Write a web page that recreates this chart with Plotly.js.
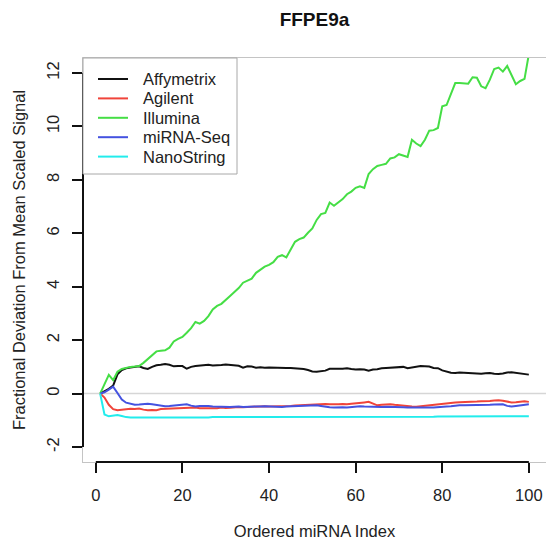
<!DOCTYPE html>
<html>
<head>
<meta charset="utf-8">
<script src="https://cdn.plot.ly/plotly-3.0.1.min.js"></script>
<style>html,body{margin:0;padding:0;background:#fff;}#chart{width:546px;height:544px;}</style>
</head>
<body>
<div id="chart"></div>
<script>
// ---- data ----
const chartTitle = "FFPE9a";
const xTitle = "Ordered miRNA Index";
const yTitle = "Fractional Deviation From Mean Scaled Signal";
const seriesNames = ["Affymetrix", "Agilent", "Illumina", "miRNA-Seq", "NanoString"];
const xTicks = [0, 20, 40, 60, 80, 100];
const yTicks = [-2, 0, 2, 4, 6, 8, 10, 12];

const affymetrix = [0,0.08,0.18,0.30,0.72,0.88,0.95,0.98,1.00,1.02,
  0.96,0.92,1.00,1.06,1.08,1.11,1.08,1.02,1.03,1.03,
  0.93,1.00,1.03,1.04,1.05,1.08,1.05,1.05,1.07,1.09,
  1.08,1.06,1.04,0.97,1.02,1.01,0.97,0.99,0.97,0.98,
  0.97,0.97,0.96,0.96,0.96,0.95,0.93,0.92,0.88,0.83,
  0.82,0.84,0.86,0.93,0.94,0.93,0.93,0.95,0.92,0.90,
  0.91,0.90,0.86,0.90,0.91,0.95,0.96,0.97,0.96,0.97,
  1.00,0.95,0.97,0.99,1.03,1.02,1.01,0.96,0.95,0.87,
  0.83,0.78,0.77,0.79,0.78,0.77,0.77,0.75,0.74,0.76,
  0.77,0.74,0.73,0.75,0.79,0.80,0.78,0.77,0.74,0.71];

const agilent = [0,-0.15,-0.42,-0.58,-0.62,-0.60,-0.60,-0.57,-0.58,-0.56,
  -0.60,-0.62,-0.61,-0.62,-0.58,-0.57,-0.58,-0.56,-0.55,-0.55,
  -0.53,-0.53,-0.52,-0.55,-0.55,-0.56,-0.54,-0.55,-0.52,-0.54,
  -0.53,-0.51,-0.50,-0.51,-0.50,-0.49,-0.48,-0.48,-0.47,-0.48,
  -0.48,-0.47,-0.47,-0.46,-0.46,-0.45,-0.44,-0.44,-0.42,-0.41,
  -0.40,-0.40,-0.39,-0.40,-0.41,-0.40,-0.39,-0.40,-0.38,-0.37,
  -0.36,-0.33,-0.31,-0.38,-0.44,-0.42,-0.41,-0.40,-0.42,-0.44,
  -0.46,-0.48,-0.48,-0.49,-0.47,-0.46,-0.45,-0.43,-0.40,-0.37,
  -0.35,-0.34,-0.33,-0.32,-0.32,-0.31,-0.31,-0.30,-0.29,-0.29,
  -0.28,-0.26,-0.25,-0.27,-0.31,-0.33,-0.32,-0.30,-0.29,-0.31];

const illumina = [0,0.35,0.70,0.50,0.82,0.92,0.97,1.00,1.01,1.03,
  1.15,1.30,1.45,1.58,1.60,1.62,1.72,1.95,2.05,2.12,
  2.28,2.45,2.68,2.62,2.72,2.90,3.15,3.28,3.36,3.52,
  3.65,3.80,3.95,4.15,4.22,4.30,4.52,4.65,4.75,4.82,
  4.92,5.12,5.18,5.10,5.40,5.68,5.78,5.84,6.02,6.18,
  6.50,6.72,6.76,7.15,7.03,7.14,7.28,7.46,7.56,7.70,
  7.76,7.70,8.22,8.40,8.52,8.56,8.60,8.80,8.84,8.96,
  8.92,8.86,9.50,9.36,9.26,9.50,9.84,9.86,9.94,10.75,
  10.80,11.20,11.62,11.62,11.61,11.60,11.84,11.82,11.50,11.43,
  11.75,12.15,12.20,12.05,12.26,11.90,11.58,11.70,11.78,12.70];

const mirnaSeq = [0,0.05,0.15,0.26,0.02,-0.22,-0.34,-0.39,-0.42,-0.41,
  -0.40,-0.38,-0.40,-0.43,-0.44,-0.47,-0.46,-0.44,-0.42,-0.40,
  -0.40,-0.45,-0.48,-0.46,-0.45,-0.46,-0.48,-0.49,-0.49,-0.50,
  -0.50,-0.49,-0.48,-0.50,-0.50,-0.49,-0.48,-0.48,-0.47,-0.48,
  -0.49,-0.50,-0.50,-0.48,-0.47,-0.47,-0.46,-0.45,-0.44,-0.43,
  -0.44,-0.46,-0.49,-0.51,-0.52,-0.51,-0.51,-0.52,-0.50,-0.48,
  -0.47,-0.48,-0.49,-0.49,-0.50,-0.50,-0.49,-0.49,-0.50,-0.50,
  -0.51,-0.52,-0.51,-0.52,-0.52,-0.51,-0.52,-0.52,-0.50,-0.49,
  -0.48,-0.47,-0.45,-0.44,-0.44,-0.44,-0.44,-0.43,-0.44,-0.43,
  -0.42,-0.41,-0.40,-0.40,-0.46,-0.48,-0.46,-0.44,-0.41,-0.40];

const nanoString = [0,-0.78,-0.85,-0.83,-0.80,-0.84,-0.88,-0.89,-0.89,-0.89,
  -0.89,-0.90,-0.90,-0.91,-0.91,-0.90,-0.90,-0.89,-0.89,-0.89,
  -0.89,-0.90,-0.90,-0.89,-0.89,-0.89,-0.88,-0.88,-0.88,-0.88,
  -0.88,-0.88,-0.87,-0.88,-0.88,-0.88,-0.88,-0.88,-0.88,-0.88,
  -0.88,-0.88,-0.88,-0.88,-0.88,-0.88,-0.88,-0.88,-0.88,-0.88,
  -0.89,-0.89,-0.89,-0.89,-0.89,-0.89,-0.89,-0.89,-0.89,-0.89,
  -0.89,-0.89,-0.89,-0.88,-0.88,-0.88,-0.88,-0.87,-0.87,-0.87,
  -0.87,-0.87,-0.87,-0.87,-0.87,-0.87,-0.87,-0.87,-0.86,-0.86,
  -0.86,-0.86,-0.86,-0.86,-0.86,-0.86,-0.86,-0.86,-0.86,-0.86,
  -0.86,-0.86,-0.86,-0.86,-0.86,-0.86,-0.85,-0.85,-0.85,-0.85];

// ---- build figure ----
const seriesValues = [affymetrix, agilent, illumina, mirnaSeq, nanoString];
const seriesColors = ["#111111", "#f0443a", "#45de45", "#4452e0", "#22ecec"];
const idx = affymetrix.map((_, i) => i + 1);

const traces = seriesNames.map((name, k) => ({
  type: "scatter", mode: "lines", name: name,
  x: idx, y: seriesValues[k],
  line: {color: seriesColors[k], width: 2},
  showlegend: false,
  hoverinfo: "x+y+name"
}));

const FONT = "Liberation Sans, Arial, Helvetica, sans-serif";
const W = 546, H = 544;
const M = {l: 83, r: 0, t: 58, b: 82};
const PW = W - M.l - M.r, PH = H - M.t - M.b;
const px2x = p => (p - M.l) / PW;           // pixel -> paper x
const py2y = p => (H - M.b - p) / PH;       // pixel -> paper y

// legend (drawn in R style: box at the top-left corner of the plot region)
const LEG = {left: 83, right: 237, top: 58, bottom: 174, lineX0: 98, lineX1: 128, textX: 141, row0: 79, rowStep: 19.4};
const shapes = [
  {type: "line", layer: "below", xref: "paper", yref: "y", x0: 0, x1: 1, y0: 0, y1: 0,
   line: {color: "#d6d6d6", width: 1.5}},
  {type: "line", layer: "above", xref: "x", yref: "paper", x0: xTicks[0], x1: xTicks[xTicks.length - 1], y0: 0, y1: 0,
   line: {color: "#111", width: 2}},
  {type: "line", layer: "above", xref: "paper", yref: "y", x0: 0, x1: 0, y0: yTicks[0], y1: yTicks[yTicks.length - 1],
   line: {color: "#111", width: 2}},
  {type: "rect", layer: "above", xref: "paper", yref: "paper",
   x0: px2x(LEG.left), x1: px2x(LEG.right), y0: py2y(LEG.bottom), y1: py2y(LEG.top),
   fillcolor: "#ffffff", line: {color: "#a8a8a8", width: 1}}
];
const annotations = [];
seriesNames.forEach((name, k) => {
  const yy = py2y(LEG.row0 + k * LEG.rowStep);
  shapes.push({type: "line", layer: "above", xref: "paper", yref: "paper",
    x0: px2x(LEG.lineX0), x1: px2x(LEG.lineX1), y0: yy, y1: yy,
    line: {color: seriesColors[k], width: 2}});
  annotations.push({xref: "paper", yref: "paper", x: px2x(LEG.textX), y: yy,
    xanchor: "left", yanchor: "middle", showarrow: false, text: name,
    font: {family: FONT, size: 16.5, color: "#222"}});
});

const layout = {
  width: W, height: H,
  margin: {l: M.l, r: M.r, t: M.t, b: M.b, pad: 0},
  paper_bgcolor: "#ffffff", plot_bgcolor: "#ffffff",
  font: {family: FONT, color: "#222222", size: 16.5},
  title: {text: "<b>" + chartTitle + "</b>", font: {family: FONT, size: 19, color: "#111"},
          x: 0.5, xref: "paper", y: 1 - 19 / H, yref: "container", yanchor: "middle"},
  xaxis: {range: [-2.96, 103.96], tickvals: xTicks, ticktext: xTicks.map(String),
          ticks: "outside", ticklen: 10, tickwidth: 2, tickcolor: "#111",
          ticklabelstandoff: 8, tickfont: {size: 16.5},
          showgrid: false, zeroline: false,
          showline: true, mirror: true, linecolor: "#c4c4c4", linewidth: 1,
          title: {text: xTitle, font: {size: 16.5, color: "#222"}, standoff: 22},
          automargin: false, fixedrange: true},
  yaxis: {range: [-2.56, 12.56], tickvals: yTicks, ticktext: yTicks.map(String),
          ticks: "outside", ticklen: 10, tickwidth: 2, tickcolor: "#111",
          tickangle: -90, ticklabelstandoff: 6, tickfont: {size: 16.5},
          showgrid: false, zeroline: false,
          showline: true, mirror: true, linecolor: "#c4c4c4", linewidth: 1,
          title: {text: yTitle, font: {size: 16.5, color: "#222"}, standoff: 14},
          automargin: false, fixedrange: true},
  showlegend: false,
  shapes: shapes,
  annotations: annotations
};
Plotly.newPlot("chart", traces, layout, {displayModeBar: false, staticPlot: true});
</script>
</body>
</html>
